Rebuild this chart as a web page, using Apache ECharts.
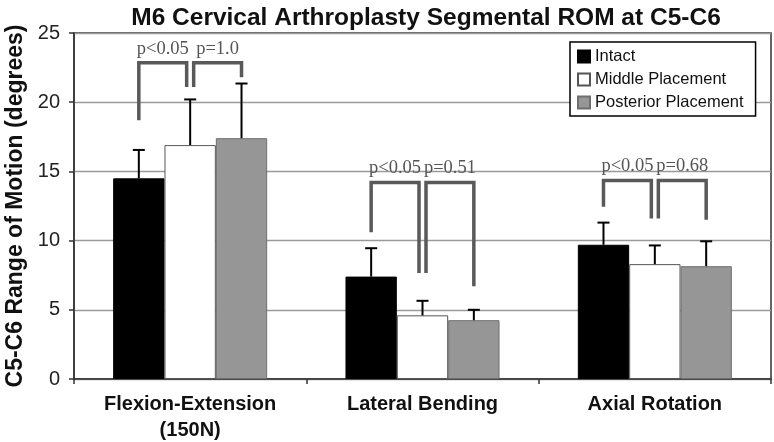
<!DOCTYPE html>
<html>
<head>
<meta charset="utf-8">
<script src="https://cdn.jsdelivr.net/npm/echarts@6/dist/echarts.min.js"></script>
<style>html,body{margin:0;padding:0;background:#fff;}#chart{width:774px;height:442px;}</style>
</head>
<body>
<div id="chart"></div>
<script>
// ---- data ----
const categories = ['Flexion-Extension\n(150N)', 'Lateral Bending', 'Axial Rotation'];
const seriesNames = ['Intact', 'Middle Placement', 'Posterior Placement'];
const intactMean = [14.5, 7.4, 9.7];
const intactSD = [2.05, 2.05, 1.6];
const middleMean = [16.9, 4.6, 8.3];
const middleSD = [3.3, 1.05, 1.35];
const posteriorMean = [17.4, 4.25, 8.15];
const posteriorSD = [3.95, 0.75, 1.8];
const yTicks = [0, 5, 10, 15, 20, 25];
// significance brackets (y values in degrees)
const bracketTop = [22.85, 14.2, 14.35];
const leftLegBottom = [18.7, 10.6, 12.45];
const innerLegBottom = [21.1, 7.65, 11.6];
const rightLegBottom = [21.8, 6.7, 11.5];
const pLabelsLeft = ['p<0.05', 'p<0.05', 'p<0.05'];
const pLabelsRight = ['p=1.0', 'p=0.51', 'p=0.68'];

// ---- style constants ----
const BAR_FRAC = 0.221;
const colors = ['#000000', '#ffffff', '#969696'];
const borders = ['#000000', '#555555', '#6e6e6e'];
const means = [intactMean, middleMean, posteriorMean];
const sds = [intactSD, middleSD, posteriorSD];

const chart = echarts.init(document.getElementById('chart'), null, {renderer: 'canvas'});

function errorSeries(k) {
  return {
    type: 'custom',
    name: 'err' + k,
    z: 5,
    silent: true,
    data: categories.map((c, i) => [i, means[k][i], means[k][i] + sds[k][i]]),
    encode: {x: 0, y: [1, 2]},
    renderItem: function (params, api) {
      const c = api.value(0);
      const band = api.size([1, 0])[0];
      const off = (k - 1) * band * BAR_FRAC;
      const p0 = api.coord([c, api.value(1)]);
      const p1 = api.coord([c, api.value(2)]);
      const x = p0[0] + off;
      return {
        type: 'group',
        children: [
          {type: 'line', shape: {x1: x, y1: p0[1], x2: x, y2: p1[1]}, style: {stroke: '#000', lineWidth: 2}},
          {type: 'line', shape: {x1: x - 6, y1: p1[1], x2: x + 6, y2: p1[1]}, style: {stroke: '#000', lineWidth: 2}}
        ]
      };
    }
  };
}

const bracketSeries = {
  type: 'custom',
  name: 'brackets',
  z: 6,
  silent: true,
  data: categories.map((c, i) => [i, bracketTop[i], leftLegBottom[i], innerLegBottom[i], rightLegBottom[i]]),
  encode: {x: 0, y: [1, 2, 3, 4]},
  renderItem: function (params, api) {
    const c = api.value(0);
    const i = params.dataIndex;
    const band = api.size([1, 0])[0];
    const bw = band * BAR_FRAC;
    const cx = api.coord([c, 0])[0];
    const Y = v => api.coord([c, v])[1];
    const yt = Y(api.value(1));
    const xl = cx - bw, xi1 = cx - 3.5, xi2 = cx + 3.5, xr = cx + bw;
    const ls = {stroke: '#595959', lineWidth: 3.5, fill: null, lineJoin: 'miter'};
    const ts = {fontSize: 18.5, fontFamily: '"Liberation Serif", "Times New Roman", serif', fill: '#555', align: 'center', verticalAlign: 'middle'};
    return {
      type: 'group',
      children: [
        {type: 'polyline', shape: {points: [[xl, Y(api.value(2))], [xl, yt], [xi1, yt], [xi1, Y(api.value(3))]]}, style: ls},
        {type: 'polyline', shape: {points: [[xi2, Y(api.value(3))], [xi2, yt], [xr, yt], [xr, Y(api.value(4))]]}, style: ls},
        {type: 'text', style: Object.assign({text: pLabelsLeft[i], x: (xl + xi1) / 2, y: yt - 14}, ts)},
        {type: 'text', style: Object.assign({text: pLabelsRight[i], x: (xi2 + xr) / 2, y: yt - 14}, ts)}
      ]
    };
  }
};

const option = {
  animation: false,
  backgroundColor: '#fff',
  textStyle: {fontFamily: '"Liberation Sans", Arial, sans-serif'},
  title: {
    text: 'M6 Cervical Arthroplasty Segmental ROM at C5-C6',
    left: 421, top: 1, textAlign: 'center',
    textStyle: {fontSize: 24.5, fontWeight: 'bold', color: '#111', fontFamily: '"Liberation Sans", Arial, sans-serif'}
  },
  legend: {
    data: seriesNames,
    orient: 'vertical',
    left: 570, top: 42,
    padding: [6, 12, 5, 7],
    itemGap: 6,
    itemWidth: 12, itemHeight: 12,
    icon: 'rect',
    backgroundColor: '#fff',
    borderColor: '#000', borderWidth: 1.5,
    textStyle: {fontSize: 16.5, color: '#111', fontFamily: '"Liberation Sans", Arial, sans-serif'}
  },
  grid: {left: 74, right: 3, top: 33, bottom: 63, outerBoundsMode: 'none', containLabel: false, show: true, borderColor: '#333', borderWidth: 1.5, backgroundColor: 'transparent'},
  xAxis: {
    type: 'category',
    data: categories,
    axisLine: {lineStyle: {color: '#333', width: 1.5}},
    axisTick: {show: true, length: 5, lineStyle: {color: '#333', width: 1.5}},
    axisLabel: {fontSize: 20, fontWeight: 'bold', color: '#111', lineHeight: 26, margin: 12, interval: 0}
  },
  yAxis: {
    type: 'value', min: yTicks[0], max: yTicks[yTicks.length - 1], interval: yTicks[1] - yTicks[0],
    name: 'C5-C6 Range of Motion (degrees)',
    nameLocation: 'middle', nameGap: 47,
    nameTextStyle: {fontSize: 23, fontWeight: 'bold', color: '#111'},
    axisLine: {show: true, lineStyle: {color: '#333', width: 1.5}},
    axisTick: {show: true, length: 5, lineStyle: {color: '#333', width: 1.5}},
    axisLabel: {fontSize: 20, color: '#222', margin: 14},
    splitLine: {lineStyle: {color: '#9a9a9a', width: 1.3}}
  },
  series: seriesNames.map((n, k) => ({
    type: 'bar', name: n, data: means[k],
    barWidth: (BAR_FRAC * 100) + '%', barGap: '0%',
    itemStyle: {color: colors[k], borderColor: borders[k], borderWidth: 1}
  })).concat([errorSeries(0), errorSeries(1), errorSeries(2), bracketSeries])
};
chart.setOption(option);
</script>
</body>
</html>
